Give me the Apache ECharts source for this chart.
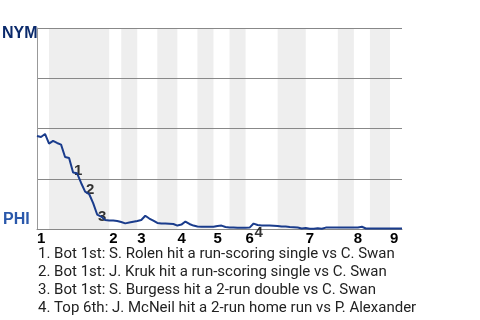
<!DOCTYPE html>
<html>
<head>
<meta charset="utf-8">
<script src="https://cdn.jsdelivr.net/npm/echarts@6/dist/echarts.min.js"></script>
<style>
  html, body { margin: 0; padding: 0; background: #fff; }
  #chart { width: 480px; height: 320px; }
</style>
</head>
<body>
<div id="chart"></div>
<script>
// NYM win probability (%) after each plate appearance, 0 = PHI wins, 100 = NYM wins
const winProb = [
  46.3, 45.8, 47.3, 42.5, 43.8, 42.8, 42.0, 35.8, 35.3, 28.1,
  27.7, 22.9, 18.6, 17.4, 12.9, 7.2, 6.2, 4.5, 4.2, 4.2,
  4.0, 3.5, 2.8, 3.2, 3.6, 4.0, 4.5, 6.6, 5.2, 4.2,
  3.0, 2.7, 2.7, 2.6, 2.5, 1.7, 2.2, 3.7, 2.5, 1.7,
  1.2, 1.1, 1.1, 1.1, 1.1, 1.5, 1.7, 1.0, 0.8, 0.7,
  0.6, 0.6, 0.6, 0.7, 2.7, 2.0, 1.8, 1.7, 1.7, 1.6,
  1.5, 1.3, 1.2, 1.0, 0.9, 0.7, 0.25, 0.5, 0.1, 0.1,
  0.35, 0.1, 0.7, 0.8, 0.8, 0.8, 0.8, 0.7, 0.7, 0.7,
  0.8, 1.1, 0.25, 0.25, 0.25, 0.25, 0.25, 0.25, 0.25, 0.25,
  0.25, 0.25
];

// plate appearance index where each inning starts (top half)
const inningStarts = [0, 18, 25, 35, 44, 52, 67, 79, 88];
const inningLabels = ['1', '2', '3', '4', '5', '6', '7', '8', '9'];

// bottom halves (PHI batting), shaded
const bottomHalves = [
  [3, 18], [21, 25], [30, 35], [40, 44], [48, 52], [60, 67], [75, 79], [83, 88]
];

// key events: plate appearance index
const eventIndex = [9, 12, 15, 54];
const eventNotes = [
  '1. Bot 1st: S. Rolen hit a run-scoring single vs C. Swan',
  '2. Bot 1st: J. Kruk hit a run-scoring single vs C. Swan',
  '3. Bot 1st: S. Burgess hit a 2-run double vs C. Swan',
  '4. Top 6th: J. McNeil hit a 2-run home run vs P. Alexander'
];

const chart = echarts.init(document.getElementById('chart'));

const labelOffsets = [[5, -2], [5, -2], [5, 2], [5, 9]];

const option = {
  animation: false,
  grid: { left: 37, right: 78, top: 28, bottom: 91 },
  xAxis: {
    type: 'value',
    min: 0,
    max: winProb.length - 1,
    splitLine: { show: false },
    axisLine: { show: true, onZero: false, lineStyle: { color: '#888', width: 1 } },
    axisTick: { show: false },
    axisLabel: {
      customValues: inningStarts,
      formatter: v => inningLabels[inningStarts.indexOf(v)],
      align: 'left',
      margin: 2,
      color: '#000',
      fontSize: 15,
      fontWeight: 'bold',
      fontFamily: 'Arial'
    }
  },
  yAxis: {
    type: 'value',
    min: 0,
    max: 100,
    interval: 25,
    axisLine: { show: true, lineStyle: { color: '#999', width: 1 } },
    axisTick: { show: false },
    axisLabel: { show: false },
    splitLine: { lineStyle: { color: '#888', width: 1 } }
  },
  series: [
    {
      type: 'custom',
      z: -1,
      silent: true,
      data: bottomHalves,
      renderItem: (params, api) => {
        const p0 = api.coord([api.value(0), 100]);
        const p1 = api.coord([api.value(1), 0]);
        return {
          type: 'rect',
          shape: { x: p0[0], y: p0[1], width: p1[0] - p0[0], height: p1[1] - p0[1] },
          style: { fill: '#eeeeee' }
        };
      }
    },
    {
      type: 'line',
      data: winProb.map((v, i) => [i, v]),
      showSymbol: false,
      silent: true,
      lineStyle: { color: '#1a3c8c', width: 2 }
    },
    {
      type: 'scatter',
      symbolSize: 0,
      silent: true,
      data: eventIndex.map((idx, k) => ({
        value: [idx, winProb[idx]],
        label: {
          show: true,
          position: 'inside',
          offset: labelOffsets[k],
          formatter: String(k + 1),
          color: '#000',
          fontSize: 15,
          fontWeight: 'bold',
          fontFamily: 'Arial'
        }
      }))
    }
  ],
  graphic: [
    {
      type: 'text',
      left: 2,
      top: 26,
      style: { text: 'NYM', fill: '#0b2a6b', font: 'bold 16px Arial' }
    },
    {
      type: 'text',
      left: 3,
      top: 212,
      style: { text: 'PHI', fill: '#2a58ab', font: 'bold 16px Arial' }
    },
    {
      type: 'text',
      left: 38,
      top: 245,
      style: {
        text: eventNotes.join('\n'),
        fill: '#222',
        font: '15px Roboto',
        lineHeight: 18
      }
    }
  ]
};

chart.setOption(option);
</script>
</body>
</html>
